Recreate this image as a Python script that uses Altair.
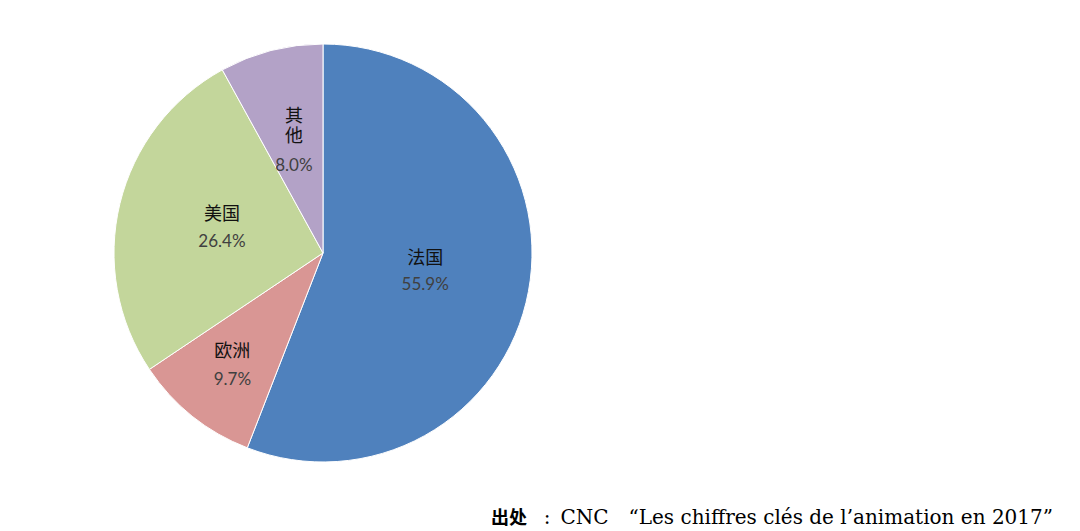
import altair as alt
import pandas as pd

# ---- data ----
categories = ["法国", "欧洲", "美国", "其他"]
shares = [55.9, 9.7, 26.4, 8.0]
colors = ["#4F81BD", "#D99694", "#C3D69B", "#B3A2C7"]
source_bold = "出处"
source_colon = ":"
source_rest = "CNC\u3000“Les chiffres clés de l’animation en 2017”"

# ---- layout / style ----
CX, CY, R = 315, 245, 209
# per-slice label radius, name (\n = line break), name dy/baseline, pct dy
label_layout = {
    "法国": (104, "法国", -13.5, "middle", 13),
    "欧洲": (145, "欧洲", -14, "middle", 14),
    "美国": (104, "美国", -13, "middle", 13.5),
    "其他": (117, "其\n他", -31.5, "top", 26),
}
NAME_FONT = "Noto Sans CJK SC"
PCT_FONT = "Lato"

df = pd.DataFrame({"cat": categories, "share": shares,
                   "order": list(range(len(categories)))})
df["pct"] = df["share"].map(lambda v: f"{v:.1f}%")

base = alt.Chart(df).encode(
    theta=alt.Theta("share:Q", stack=True),
    order=alt.Order("order:Q"),
    x=alt.value(CX),
    y=alt.value(CY),
)

pie = base.mark_arc(outerRadius=R, stroke="white", strokeWidth=1).encode(
    color=alt.Color("cat:N", scale=alt.Scale(domain=categories, range=colors),
                    legend=None)
)

layers = [pie]
for cat, (rad, name, name_dy, name_base, pct_dy) in label_layout.items():
    name_js = name.replace("\n", "\\n")
    layers.append(
        base.transform_calculate(t=f"datum.cat === '{cat}' ? '{name_js}' : ''")
        .mark_text(radius=rad, dy=name_dy, font=NAME_FONT, fontSize=18,
                   color="#111111", baseline=name_base, align="center",
                   lineBreak="\n", lineHeight=19.5)
        .encode(text="t:N")
    )
    layers.append(
        base.transform_calculate(t=f"datum.cat === '{cat}' ? datum.pct : ''")
        .mark_text(radius=rad, dy=pct_dy, font=PCT_FONT, fontSize=17,
                   color="#404040", baseline="middle", align="center")
        .encode(text="t:N")
    )

src = pd.DataFrame({"a": [source_bold], "b": [source_colon], "c": [source_rest]})
footer_bold = alt.Chart(src).mark_text(
    align="right", baseline="alphabetic", font=NAME_FONT, fontWeight="bold",
    fontSize=18, color="#000000"
).encode(text="a:N", x=alt.value(519), y=alt.value(516))
footer_colon = alt.Chart(src).mark_text(
    align="center", baseline="alphabetic", font="DejaVu Serif",
    fontSize=20, color="#000000"
).encode(text="b:N", x=alt.value(539), y=alt.value(516))
footer_rest = alt.Chart(src).mark_text(
    align="right", baseline="alphabetic", font="DejaVu Serif",
    fontSize=20, color="#000000"
).encode(text="c:N", x=alt.value(1045), y=alt.value(516))

chart = alt.layer(*layers, footer_bold, footer_colon, footer_rest).properties(
    width=1064, height=523, padding=0,
    autosize=alt.AutoSizeParams(type="none"),
    background="white",
).configure_view(strokeWidth=0)

chart.save("out.html", embed_options={"renderer": "svg", "actions": False})
